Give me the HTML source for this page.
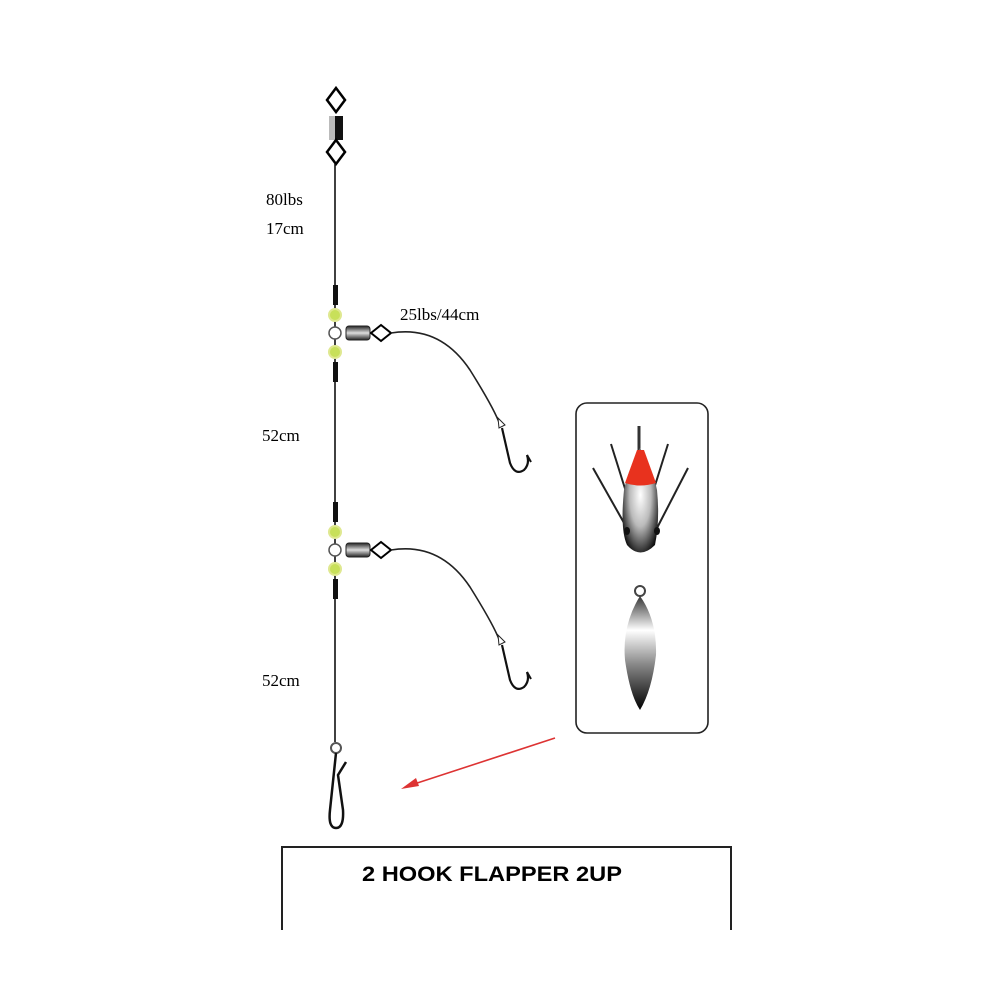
<!DOCTYPE html>
<html><head><meta charset="utf-8"><style>
html,body{margin:0;padding:0;background:#fff;}
svg{display:block;}
text{font-family:"Liberation Serif",serif;}
</style></head><body>
<svg width="1000" height="1000" viewBox="0 0 1000 1000" xmlns="http://www.w3.org/2000/svg">
<defs>
<radialGradient id="lg1" cx="0.5" cy="0.45" r="0.6"><stop offset="0" stop-color="#fff"/><stop offset="0.5" stop-color="#bbb"/><stop offset="1" stop-color="#111"/></radialGradient>
<linearGradient id="lg2" x1="0" y1="0" x2="0" y2="1"><stop offset="0" stop-color="#333"/><stop offset="0.3" stop-color="#fff"/><stop offset="0.6" stop-color="#888"/><stop offset="1" stop-color="#000"/></linearGradient>
<linearGradient id="barrel" x1="0" y1="0" x2="0" y2="1"><stop offset="0" stop-color="#222"/><stop offset="0.5" stop-color="#ddd"/><stop offset="1" stop-color="#222"/></linearGradient>
</defs>
<path d="M336 88 L345 100 L336 112 L327 100 Z" fill="none" stroke="#000" stroke-width="2.5"/>
<rect x="329" y="116" width="6" height="24" fill="#bbb"/>
<rect x="335" y="116" width="8" height="24" fill="#111"/>
<path d="M336 140 L345 152 L336 164 L327 152 Z" fill="none" stroke="#000" stroke-width="2.5"/>
<line x1="335" y1="164" x2="335" y2="742" stroke="#111" stroke-width="1.6"/>
<g id="br">
<rect x="333" y="285" width="5" height="20" fill="#111"/>
<circle cx="335" cy="315" r="6" fill="#c8e05a" stroke="#dfe890" stroke-width="2"/>
<circle cx="335" cy="333" r="6" fill="#fff" stroke="#555" stroke-width="1.5"/>
<circle cx="335" cy="352" r="6" fill="#c8e05a" stroke="#dfe890" stroke-width="2"/>
<rect x="333" y="362" width="5" height="20" fill="#111"/>
<rect x="346" y="326" width="24" height="14" rx="3" fill="url(#barrel)" stroke="#222"/>
<path d="M371 333 L381 325 L391 333 L381 341 Z" fill="none" stroke="#000" stroke-width="2"/>
<path d="M391 333 Q440 325 470 370 Q495 410 500 425" fill="none" stroke="#222" stroke-width="1.6"/>
<path d="M498 418 L505 425 L499 428 Z" fill="#fff" stroke="#222"/>
<path d="M502 428 L510 463 Q515 476 524 470 Q530 464 527 455" fill="none" stroke="#111" stroke-width="2.2"/>
<path d="M527 455 L531 462" stroke="#111" stroke-width="2"/>
</g>
<use href="#br" transform="translate(0,217)"/>
<text x="266" y="205" font-size="17">80lbs</text>
<text x="266" y="234" font-size="17">17cm</text>
<text x="400" y="320" font-size="17">25lbs/44cm</text>
<text x="262" y="441" font-size="17">52cm</text>
<text x="262" y="686" font-size="17">52cm</text>
<circle cx="336" cy="748" r="5" fill="#fff" stroke="#555" stroke-width="2"/>
<path d="M336 753 L330 810 Q328 828 336 828 Q344 828 343 810 L338 775 L346 762" fill="none" stroke="#111" stroke-width="2.5"/>
<line x1="555" y1="738" x2="405" y2="787" stroke="#d33" stroke-width="1.6"/>
<path d="M401 789 L416 778 L419 786 Z" fill="#d33"/>
<rect x="576" y="403" width="132" height="330" rx="11" fill="#fff" stroke="#222" stroke-width="1.6"/>
<line x1="639" y1="426" x2="639" y2="450" stroke="#333" stroke-width="3"/>
<line x1="611" y1="444" x2="627" y2="495" stroke="#222" stroke-width="2"/>
<line x1="668" y1="444" x2="652" y2="495" stroke="#222" stroke-width="2"/>
<line x1="593" y1="468" x2="628" y2="530" stroke="#222" stroke-width="2"/>
<line x1="688" y1="468" x2="657" y2="528" stroke="#222" stroke-width="2"/>
<path d="M640 448 Q628 470 624 490 Q620 530 627 545 Q640 560 655 545 Q660 520 657 490 Q653 470 640 448 Z" fill="url(#lg1)"/>
<path d="M637 450 L644 450 L656 483 Q640 488 625 483 Z" fill="#e8321e"/>
<ellipse cx="627" cy="531" rx="3" ry="4" fill="#111"/>
<ellipse cx="657" cy="531" rx="3" ry="4" fill="#111"/>
<circle cx="640" cy="591" r="5" fill="none" stroke="#444" stroke-width="2"/>
<path d="M640 596 Q622 625 625 660 Q630 695 640 710 Q652 690 656 655 Q657 620 640 596 Z" fill="url(#lg2)"/>
<path d="M282 930 L282 847 L731 847 L731 930" fill="none" stroke="#222" stroke-width="2"/>
<text x="362" y="881" font-size="21" font-weight="bold" textLength="260" lengthAdjust="spacingAndGlyphs" style="font-family:'Liberation Sans',sans-serif">2 HOOK FLAPPER 2UP</text>
</svg>
</body></html>
